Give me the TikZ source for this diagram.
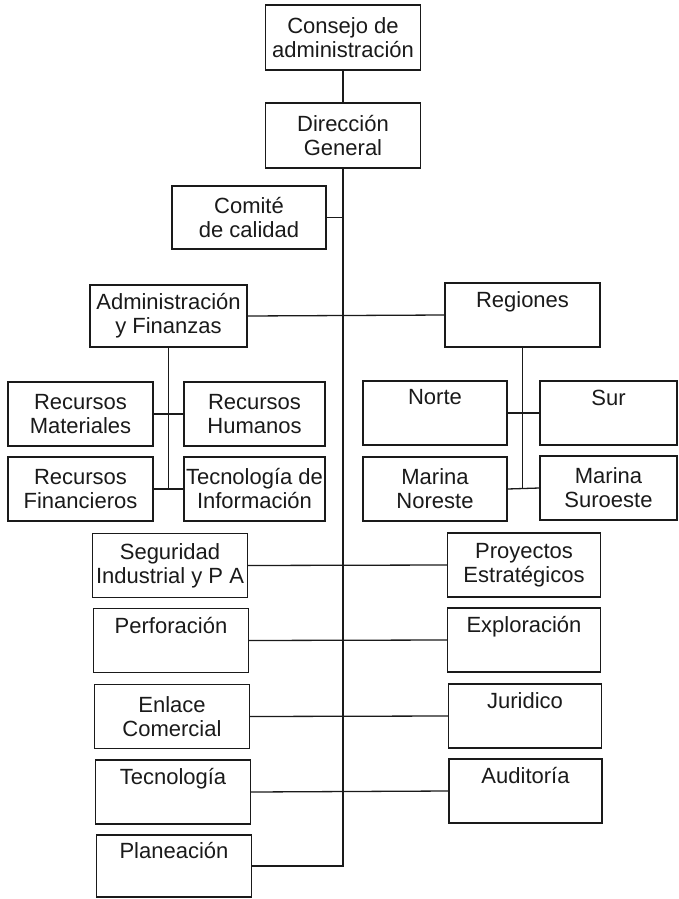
\documentclass[tikz,border=0pt]{standalone}
\usepackage{fontspec}
\setmainfont{Liberation Sans}
\usepackage{tikz}
\usetikzlibrary{positioning,calc}
\definecolor{orgink}{HTML}{1A1A1A}
\tikzset{
  orgBox/.style={draw=orgink, line width=1.2pt, fill=white, align=center, inner sep=2pt,
    minimum height=64pt, font=\fontsize{22}{24}\selectfont, text=orgink},
  leftBox/.style={orgBox, minimum width=155pt},
  rightBox/.style={orgBox, minimum width=153pt},
  smallBox/.style={orgBox, minimum width=144pt},
  orgLine/.style={draw=orgink, line width=1.3pt}
}

\begin{document}
\begin{tikzpicture}[x=1pt,y=-1pt]
  \useasboundingbox (0,0) rectangle (678,899);
  % top of the chart
  \node[orgBox, minimum width=155pt, minimum height=65pt] (consejo) at (343,37.5) {Consejo de\\administración};
  \node[orgBox, minimum width=155pt, minimum height=65pt] (direccion) at (343,135.5) {Dirección\\General};
  \node[orgBox, minimum width=154pt, minimum height=63pt] (comite) at (249,217.5) {Comité\\de calidad};
  % second level
  \node[leftBox, minimum width=157pt, minimum height=62pt] (admin) at (168.5,316) {Administración\\y Finanzas};
  \node[rightBox, minimum width=155pt] (regiones) at (522.5,315) {Regiones\\\strut};
  \node[smallBox, minimum width=145pt] (rmat) at (80.5,414) {Recursos\\Materiales};
  \node[smallBox, minimum width=141pt] (rhum) at (254.5,414) {Recursos\\Humanos};
  \node[smallBox, minimum width=145pt] (rfin) at (80.5,489) {Recursos\\Financieros};
  \node[smallBox, minimum width=141pt] (tinfo) at (254.5,489) {Tecnología de\\Información};
  \node[smallBox] (norte) at (435,413) {Norte\\\strut};
  \node[smallBox, minimum width=137pt] (sur) at (608.5,413) {Sur\\\strut};
  \node[smallBox] (mnor) at (435,489) {Marina\\Noreste};
  \node[smallBox, minimum width=137pt] (msur) at (608.5,488) {Marina\\Suroeste};
  % areas along the main line
  \node[leftBox] (segur) at (170,565.5) {Seguridad\\Industrial y P A};
  \node[rightBox] (proy) at (524,565) {Proyectos\\Estratégicos};
  \node[leftBox] (perf) at (171,640.5) {Perforación\\\strut};
  \node[rightBox] (explo) at (524,640) {Exploración\\\strut};
  \node[leftBox] (enlace) at (172,716.5) {Enlace\\Comercial};
  \node[rightBox] (jurid) at (525,716) {Juridico\\\strut};
  \node[leftBox] (tecno) at (173,792) {Tecnología\\\strut};
  \node[rightBox] (audit) at (525.5,791) {Auditoría\\\strut};
  \node[leftBox, minimum height=62pt] (plan) at (174,866) {Planeación\\\strut};

  \draw[orgLine] (consejo.south) -- (direccion.north);
  \draw[orgLine] (direccion.south) |- (plan.east);
  \draw[orgLine] (comite.east) -- (comite.east -| direccion.south);
  \draw[orgLine] (admin.east) -- (regiones.west);
  \draw[orgLine] (admin.south) -- (admin.south |- rfin.east);
  \draw[orgLine] (rmat.east) -- (rhum.west);
  \draw[orgLine] (rfin.east) -- (tinfo.west);
  \draw[orgLine] (regiones.south) -- (regiones.south |- mnor.east);
  \draw[orgLine] (norte.east) -- (sur.west);
  \draw[orgLine] (mnor.east) -- (msur.west);
  \draw[orgLine] (segur.east) -- (proy.west);
  \draw[orgLine] (perf.east) -- (explo.west);
  \draw[orgLine] (enlace.east) -- (jurid.west);
  \draw[orgLine] (tecno.east) -- (audit.west);
\end{tikzpicture}
\end{document}
